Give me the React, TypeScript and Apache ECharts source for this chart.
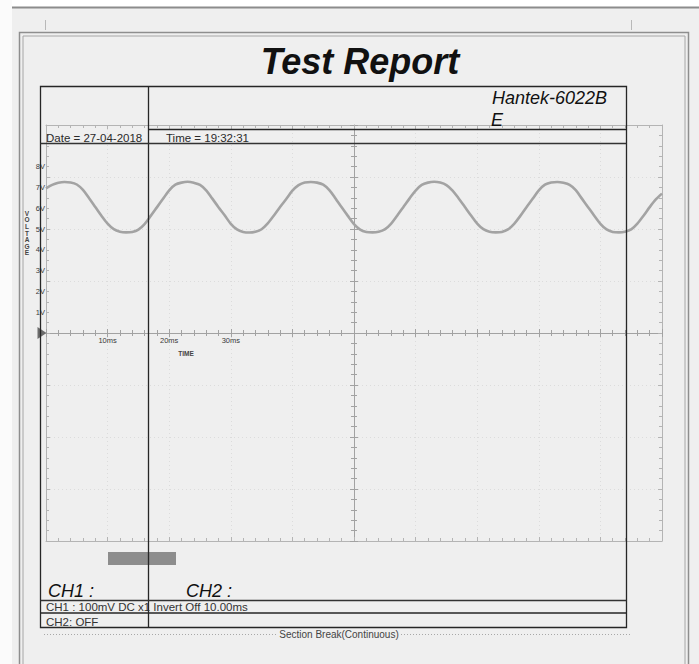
import React, { useEffect, useRef } from "react";
import * as echarts from "echarts";

// ---------- data ----------
const SAMPLE_INTERVAL_MS = 1;
const ch1Volts = [
  6.95, 7.12, 7.22, 7.26, 7.24, 7.14, 6.88, 6.48, 6.06, 5.64,
  5.26, 4.99, 4.87, 4.84, 4.86, 4.97, 5.24, 5.63, 6.04, 6.45,
  6.86, 7.13, 7.23, 7.27, 7.22, 7.12, 6.86, 6.46, 6.05, 5.66,
  5.25, 4.98, 4.86, 4.83, 4.87, 4.99, 5.27, 5.65, 6.06, 6.44,
  6.84, 7.11, 7.24, 7.26, 7.23, 7.13, 6.87, 6.47, 6.04, 5.63,
  5.24, 4.97, 4.86, 4.84, 4.87, 4.98, 5.25, 5.64, 6.05, 6.46,
  6.85, 7.12, 7.23, 7.27, 7.23, 7.11, 6.85, 6.47, 6.06, 5.65,
  5.26, 4.99, 4.87, 4.84, 4.86, 4.98, 5.25, 5.63, 6.05, 6.45,
  6.86, 7.13, 7.24, 7.26, 7.22, 7.12, 6.87, 6.46, 6.05, 5.64,
  5.25, 4.98, 4.86, 4.84, 4.87, 4.98, 5.26, 5.64, 6.05, 6.42,
  6.7,
];
const timeRangeMs = [0, 100];
const timeDivisionMs = 10;
const voltRange = [-10, 10];
const voltDivision = 2.5;
const timeTickLabelsMs = [10, 20, 30];
const voltTickLabels = [1, 2, 3, 4, 5, 6, 7, 8];

const titleText = "Test Report";
const deviceLines = ["Hantek-6022B", "E"];
const dateText = "Date = 27-04-2018";
const clockText = "Time = 19:32:31";
const ch1Heading = "CH1 :";
const ch2Heading = "CH2 :";
const ch1Settings = "CH1 : 100mV DC x1 Invert Off 10.00ms";
const ch2Settings = "CH2: OFF";
const sectionBreakText = "Section Break(Continuous)";
const yAxisName = "VOLTAGE";
const xAxisName = "TIME";

export default function App() {
  const ref = useRef<HTMLDivElement>(null);

  useEffect(() => {
    if (!ref.current) return;
    const chart = echarts.init(ref.current, null, { renderer: "svg" });

    const W = 699;
    const H = 664;
    const grid = { left: 46, right: 37, top: 125, bottom: 123 };
    const plotW = W - grid.left - grid.right;
    const plotH = H - grid.top - grid.bottom;
    const font = "'Liberation Sans', Arial, sans-serif";
    const edgeColor = "#b4b4b4";
    const centerColor = "#a2a2a2";
    const ink = "#1e1e1e";

    const baseX = {
      type: "value",
      min: timeRangeMs[0],
      max: timeRangeMs[1],
      interval: timeDivisionMs,
      gridIndex: 0,
    };
    const baseY = {
      type: "value",
      min: voltRange[0],
      max: voltRange[1],
      interval: voltDivision,
      gridIndex: 0,
    };
    const tickStyle = (color: string, inside: boolean, len: number) => ({
      axisTick: { show: true, inside, length: len, lineStyle: { color, width: 1 } },
      minorTick: { show: true, splitNumber: 5, length: len - 1, lineStyle: { color, width: 1 } },
    });

    const xAxes = [
      {
        ...baseX,
        position: "bottom",
        axisLine: { show: true, onZero: false, lineStyle: { color: edgeColor } },
        ...tickStyle(edgeColor, true, 4),
        axisLabel: { show: false },
        splitLine: { show: true, lineStyle: { color: "#dcdcdc", type: [1, 3] } },
      },
      {
        ...baseX,
        position: "top",
        axisLine: { show: true, onZero: false, lineStyle: { color: edgeColor } },
        ...tickStyle(edgeColor, true, 4),
        axisLabel: { show: false },
        splitLine: { show: false },
      },
      {
        ...baseX,
        position: "bottom",
        offset: -plotH / 2,
        axisLine: { show: true, onZero: false, lineStyle: { color: centerColor } },
        ...tickStyle(centerColor, false, 4),
        axisLabel: {
          show: true,
          margin: 3,
          fontSize: 7.5,
          color: "#3a3a3a",
          fontFamily: font,
          formatter: (v: number) => (timeTickLabelsMs.includes(v) ? `${v}ms` : ""),
        },
        splitLine: { show: false },
      },
      {
        ...baseX,
        position: "top",
        offset: -plotH / 2,
        axisLine: { show: false, onZero: false },
        ...tickStyle(centerColor, false, 4),
        axisLabel: { show: false },
        splitLine: { show: false },
      },
    ];

    const yAxes = [
      {
        ...baseY,
        position: "left",
        axisLine: { show: true, onZero: false, lineStyle: { color: edgeColor } },
        ...tickStyle(edgeColor, true, 4),
        axisLabel: { show: false },
        splitLine: { show: true, lineStyle: { color: "#dcdcdc", type: [1, 3] } },
      },
      {
        ...baseY,
        interval: 1,
        position: "left",
        axisLine: { show: false, onZero: false },
        axisTick: { show: false },
        axisLabel: {
          show: true,
          margin: 1,
          fontSize: 7.5,
          color: "#3a3a3a",
          fontFamily: font,
          formatter: (v: number) => (voltTickLabels.includes(v) ? `${v}V` : ""),
        },
        splitLine: { show: false },
      },
      {
        ...baseY,
        position: "right",
        axisLine: { show: true, onZero: false, lineStyle: { color: edgeColor } },
        ...tickStyle(edgeColor, true, 4),
        axisLabel: { show: false },
        splitLine: { show: false },
      },
      {
        ...baseY,
        position: "left",
        offset: -plotW / 2,
        axisLine: { show: true, onZero: false, lineStyle: { color: centerColor } },
        ...tickStyle(centerColor, false, 4),
        axisLabel: { show: false },
        splitLine: { show: false },
      },
      {
        ...baseY,
        position: "right",
        offset: -plotW / 2,
        axisLine: { show: false, onZero: false },
        ...tickStyle(centerColor, false, 4),
        axisLabel: { show: false },
        splitLine: { show: false },
      },
    ];

    const line = (x1: number, y1: number, x2: number, y2: number, stroke: string, lw: number, z = 100, dash?: number[]) => ({
      type: "line",
      silent: true,
      z,
      shape: { x1, y1, x2, y2 },
      style: { stroke, lineWidth: lw, lineDash: dash },
    });
    const text = (
      t: string,
      x: number,
      y: number,
      size: number,
      opts: Record<string, any> = {}
    ) => ({
      type: "text",
      silent: true,
      z: 110,
      x,
      y,
      style: {
        text: t,
        fontSize: size,
        fontFamily: font,
        fill: ink,
        align: "left",
        verticalAlign: "middle",
        ...opts,
      },
    });

    const tableL = 40.5;
    const tableR = 626.5;
    const colX = 148.5;
    const tableTop = 86.5;
    const tableBottom = 627.5;

    const graphic = [
      // page margins
      { type: "rect", silent: true, z: -10, shape: { x: 0, y: 0, width: W, height: 7 }, style: { fill: "#ffffff" } },
      { type: "rect", silent: true, z: -10, shape: { x: 0, y: 0, width: 12, height: H }, style: { fill: "#fbfbfb" } },
      line(12, 7.5, W, 7.5, "#8c8c8c", 2, 5),
      line(45.5, 20, 45.5, 30, "#b8b8b8", 1, 5),
      line(631.5, 20, 631.5, 30, "#b8b8b8", 1, 5),
      // double page frame
      { type: "rect", silent: true, z: 5, shape: { x: 19.5, y: 32.5, width: 669, height: 700 }, style: { fill: "none", stroke: "#8e8e8e", lineWidth: 1.5 } },
      { type: "rect", silent: true, z: 5, shape: { x: 23, y: 36, width: 662, height: 700 }, style: { fill: "none", stroke: "#a6a6a6", lineWidth: 1 } },
      // title
      text(titleText, 360, 61, 36, { align: "center", fontStyle: "italic", fontWeight: "bold", fill: "#111" }),
      // table
      { type: "rect", silent: true, z: 90, shape: { x: 108, y: 552, width: 68, height: 13 }, style: { fill: "#8d8d8d" } },
      { type: "rect", silent: true, z: 100, shape: { x: tableL, y: tableTop, width: tableR - tableL, height: tableBottom - tableTop }, style: { fill: "none", stroke: "#262626", lineWidth: 1.3 } },
      line(colX, tableTop, colX, tableBottom, "#262626", 1.3),
      line(colX, 129.5, tableR, 129.5, "#262626", 1.3),
      line(tableL, 143.5, tableR, 143.5, "#333", 1.3),
      line(tableL, 600.5, tableR, 600.5, "#333", 1.3),
      line(tableL, 613, tableR, 613, "#262626", 1.5),
      text(deviceLines[0], 492, 97.5, 18, { fontStyle: "italic", fill: "#111" }),
      text(deviceLines[1], 491, 120, 18, { fontStyle: "italic", fill: "#111" }),
      text(dateText, 46, 137.5, 11.5, { fill: "#2a2a2a" }),
      text(clockText, 166, 137.5, 11.5, { fill: "#2a2a2a" }),
      text(ch1Heading, 48, 591, 18, { fontStyle: "italic", fill: "#111" }),
      text(ch2Heading, 186, 591, 18, { fontStyle: "italic", fill: "#111" }),
      text(ch1Settings, 46, 607, 11.5, { fill: "#333" }),
      text(ch2Settings, 46, 621.5, 11.5, { fill: "#333" }),
      // section break
      line(44, 634.5, 630, 634.5, "#a8a8a8", 1, 50, [1, 2]),
      text(sectionBreakText, 339, 634.5, 10, {
        align: "center",
        fill: "#444",
        backgroundColor: "#efefef",
        padding: [0, 2],
      }),
      // axis names
      text(yAxisName.split("").join("\n"), 27, 233, 6.5, {
        align: "center",
        fontWeight: "bold",
        lineHeight: 6.6,
        fill: "#444",
      }),
      text(xAxisName, 186, 353, 6.5, { align: "center", fontWeight: "bold", fill: "#444" }),
    ];

    chart.setOption({
      animation: false,
      backgroundColor: "#efefef",
      grid: { ...grid, containLabel: false },
      xAxis: xAxes,
      yAxis: yAxes,
      graphic,
      series: [
        {
          type: "line",
          name: "CH1",
          xAxisIndex: 0,
          yAxisIndex: 0,
          data: ch1Volts.map((v, i) => [i * SAMPLE_INTERVAL_MS, v]),
          smooth: 0.3,
          showSymbol: false,
          z: 5,
          lineStyle: { color: "#a3a3a3", width: 2.6 },
          markPoint: {
            silent: true,
            symbol: "triangle",
            symbolSize: [12, 9],
            symbolRotate: -90,
            symbolOffset: [-4, 0],
            label: { show: false },
            itemStyle: { color: "#6c6c6c" },
            data: [{ coord: [0, 0] }],
          },
        },
      ],
    });

    return () => chart.dispose();
  }, []);

  return (
    <div
      ref={ref}
      style={{ position: "absolute", left: 0, top: 0, width: 699, height: 664 }}
    />
  );
}
